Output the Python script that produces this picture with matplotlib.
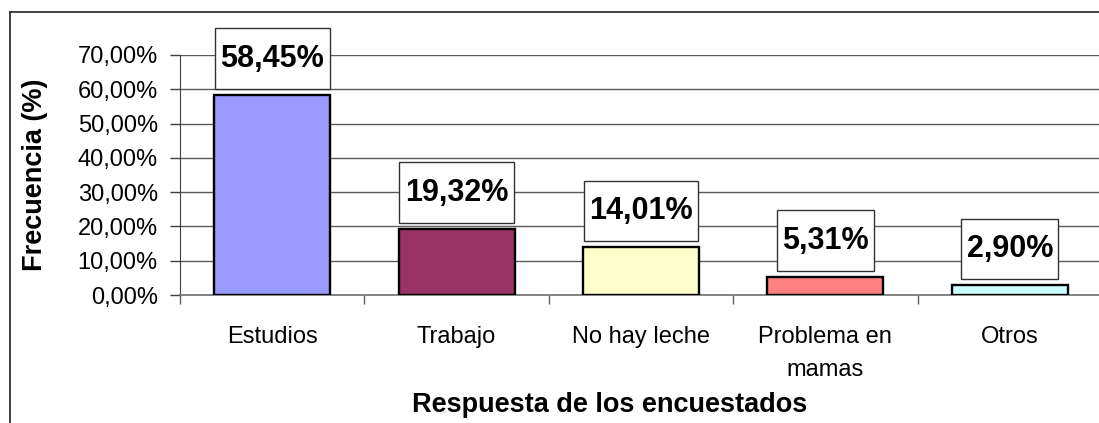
import matplotlib
matplotlib.use("Agg")
from matplotlib import pyplot as plt
from matplotlib.ticker import FuncFormatter, FixedLocator
from matplotlib.lines import Line2D

narrow = ["Liberation Sans Narrow", "Liberation Sans", "DejaVu Sans"]
wide = ["Liberation Sans", "DejaVu Sans"]

categorias = ["Estudios", "Trabajo", "No hay leche", "Problema en\nmamas", "Otros"]
frecuencia = [58.45, 19.32, 14.01, 5.31, 2.90]
colores = ["#9999FF", "#993366", "#FFFFCC", "#FF8080", "#CCFFFF"]
yticks = [0, 10, 20, 30, 40, 50, 60, 70]

fig = plt.figure(figsize=(10.99, 4.23), dpi=100)
ax = fig.add_axes([180 / 1099, 1 - 295 / 423, 922 / 1099, 240 / 423])

x = list(range(len(categorias)))
ax.bar(x, frecuencia, width=0.63, color=colores, edgecolor="black", linewidth=1.7, zorder=3)

ax.set_xlim(-0.5, len(categorias) - 0.5)
ax.set_ylim(0, 70)
ax.set_yticks(yticks)
ax.yaxis.set_major_formatter(FuncFormatter(lambda v, p: f"{v:.2f}".replace(".", ",") + "%"))
ax.grid(axis="y", color="#5a5a5a", linewidth=1.0, zorder=0)

# category boundaries as ticks, names centred in between
ax.xaxis.set_major_locator(FixedLocator([i - 0.5 for i in range(len(categorias) + 1)]))
ax.xaxis.set_minor_locator(FixedLocator(x))
ax.set_xticklabels([])
ax.set_xticklabels(categorias, minor=True)
ax.tick_params(axis="x", which="major", length=6.5, width=1.0, color="#606060", direction="out")
ax.tick_params(axis="x", which="minor", length=0, pad=22)
ax.tick_params(axis="y", length=7, width=1.0, color="#404040", pad=9)

for lab in ax.get_xticklabels(minor=True):
    lab.set_family(narrow)
    lab.set_fontsize(17)
    lab.set_linespacing(1.65)
    lab.set_va("top")
for lab in ax.get_yticklabels():
    lab.set_family(narrow)
    lab.set_fontsize(17)

ax.spines["top"].set_visible(False)
ax.spines["right"].set_visible(False)
ax.spines["left"].set_color("#404040")
ax.spines["bottom"].set_color("#707070")
ax.spines["bottom"].set_linewidth(1.2)

ax.set_ylabel("Frecuencia (%)", family=wide, fontsize=19.5, fontweight="bold")
ax.yaxis.set_label_coords(-0.143, 0.50)
ax.set_xlabel("Respuesta de los encuestados", family=wide, fontsize=19.5, fontweight="bold", va="center")
ax.xaxis.set_label_coords(0.466, -0.46)

for xi, v in zip(x, frecuencia):
    ax.annotate(f"{v:.2f}".replace(".", ",") + "%", (xi, v), xytext=(0, 36),
                textcoords="offset pixels", ha="center", va="center",
                family=narrow, fontsize=22, fontweight="bold", zorder=5,
                bbox=dict(boxstyle="square,pad=0.18", mutation_aspect=2.8,
                          facecolor="white", edgecolor="#333333", linewidth=1.0))

# outer chart frame (top and left edges visible)
fig.add_artist(Line2D([10 / 1099, 1.0], [1 - 12 / 423, 1 - 12 / 423],
                      transform=fig.transFigure, color="#333333", linewidth=1.3))
fig.add_artist(Line2D([10 / 1099, 10 / 1099], [0, 1 - 12 / 423],
                      transform=fig.transFigure, color="#333333", linewidth=1.3))

fig.savefig("out.png", dpi=100)
